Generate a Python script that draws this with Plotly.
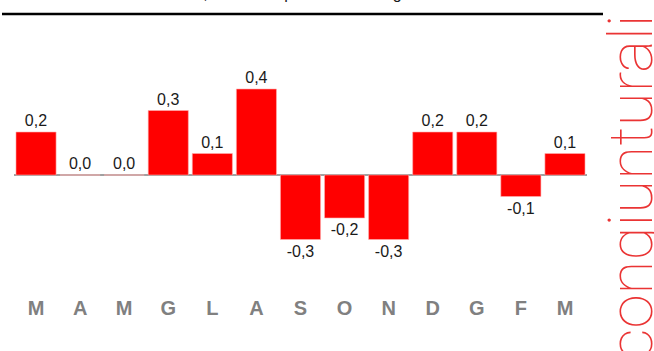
import plotly.graph_objects as go

# Monthly change, percent (Italian month initials)
months = ["M", "A", "M", "G", "L", "A", "S", "O", "N", "D", "G", "F", "M"]
values = [0.2, 0.0, 0.0, 0.3, 0.1, 0.4, -0.3, -0.2, -0.3, 0.2, 0.2, -0.1, 0.1]
labels = [f"{v:.1f}".replace(".", ",") for v in values]

title_text = "Marzo 2023 - marzo 2024, variazioni percentuali congiunturali"
side_text = "congiunturali"

W, H = 654, 351
px_left, px_right = 14, 587
px_top, px_bottom = 30, 290
px_zero = 175
px_per_unit = 215.0

y_hi = (px_zero - px_top) / px_per_unit
y_lo = -(px_bottom - px_zero) / px_per_unit

x_idx = list(range(len(months)))

fig = go.Figure(
    go.Bar(
        x=x_idx,
        y=values,
        text=labels,
        textposition="outside",
        textfont=dict(family="Liberation Sans Narrow, Arial Narrow, Liberation Sans",
                      size=16, color="#1a1a1a"),
        marker=dict(color="#ff0000", line=dict(width=0.6, color="#ffb0b0")),
        cliponaxis=False,
        width=0.91,
    )
)

fig.update_layout(
    width=W,
    height=H,
    margin=dict(l=0, r=0, t=0, b=0),
    paper_bgcolor="white",
    plot_bgcolor="white",
    showlegend=False,
    xaxis=dict(
        domain=[px_left / W, px_right / W],
        range=[-0.5, len(months) - 0.5],
        tickmode="array",
        tickvals=x_idx,
        ticktext=months,
        showgrid=False,
        showline=False,
        zeroline=False,
        ticks="",
        ticklabelstandoff=4,
        tickfont=dict(family="Liberation Sans Narrow, Arial Narrow, Liberation Sans",
                      size=20, color="#808080", weight="bold"),
        fixedrange=True,
    ),
    yaxis=dict(
        domain=[1 - px_bottom / H, 1 - px_top / H],
        range=[y_lo, y_hi],
        showgrid=False,
        showticklabels=False,
        showline=False,
        zeroline=True,
        zerolinecolor="#a0a0a0",
        zerolinewidth=2,
        fixedrange=True,
    ),
    shapes=[
        dict(type="line", xref="paper", yref="paper",
             x0=2 / W, x1=603 / W, y0=1 - 14 / H, y1=1 - 14 / H,
             line=dict(color="black", width=2.5)),
    ],
    annotations=[
        dict(text=title_text, xref="paper", yref="paper",
             x=18 / W, y=1 - 4.5 / H, xanchor="left", yanchor="bottom",
             showarrow=False,
             font=dict(family="Liberation Sans, Arial", size=16, color="#1a1a1a")),
        dict(text=side_text, xref="paper", yref="paper",
             x=630 / W, y=1 - 12 / H, xanchor="center", yanchor="top",
             textangle=-90, showarrow=False,
             font=dict(family="Roboto", size=62, weight=100, color="rgba(232,30,30,0.9)")),
    ],
)

fig.write_html("out.html")
